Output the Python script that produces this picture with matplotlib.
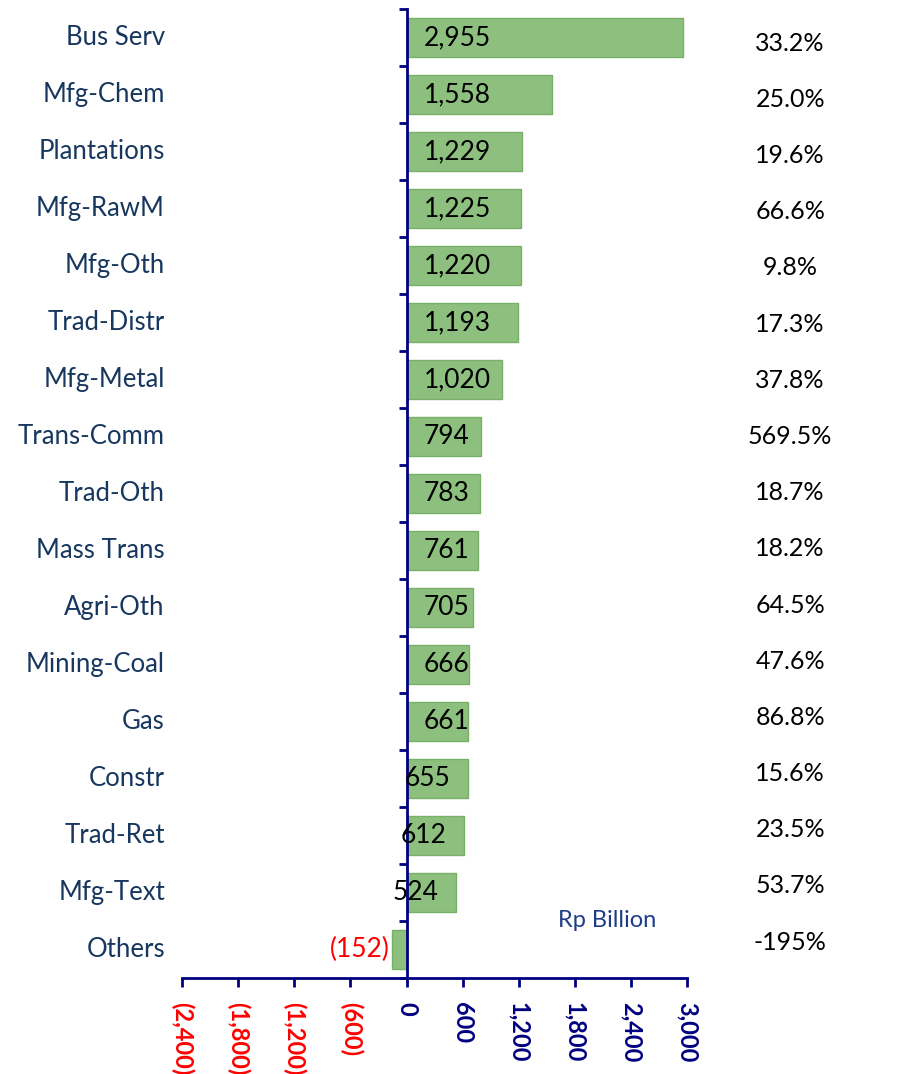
import numpy as np
import matplotlib
matplotlib.use("Agg")
import matplotlib.pyplot as plt

plt.rcParams['font.family'] = ['Lato', 'DejaVu Sans']

# data
categories = ["Bus Serv", "Mfg-Chem", "Plantations", "Mfg-RawM", "Mfg-Oth", "Trad-Distr",
              "Mfg-Metal", "Trans-Comm", "Trad-Oth", "Mass Trans", "Agri-Oth", "Mining-Coal",
              "Gas", "Constr", "Trad-Ret", "Mfg-Text", "Others"]
values = [2955, 1558, 1229, 1225, 1220, 1193, 1020, 794, 783, 761, 705, 666,
          661, 655, 612, 524, -152]
growth = ["33.2%", "25.0%", "19.6%", "66.6%", "9.8%", "17.3%", "37.8%", "569.5%",
          "18.7%", "18.2%", "64.5%", "47.6%", "86.8%", "15.6%", "23.5%", "53.7%", "-195%"]
x_ticks = [-2400, -1800, -1200, -600, 0, 600, 1200, 1800, 2400, 3000]

NAVY = '#000080'
RED = '#ff0000'
LABEL_COL = '#17375e'
BAR_FACE = '#8dc07e'
BAR_EDGE = '#79b068'


def fmt(v):
    return f"({abs(v):,})" if v < 0 else f"{v:,}"


fig = plt.figure(figsize=(9.15, 10.74), dpi=100)
ax = fig.add_axes([0.199, 0.0894, 0.552, 0.9022])

n = len(categories)
ypos = np.arange(n)
ax.barh(ypos, values, height=0.68, color=BAR_FACE, edgecolor=BAR_EDGE, linewidth=1)

ax.set_xlim(-2400, 3000)
ax.set_ylim(n - 0.5, -0.5)

# spines
for s in ['top', 'right']:
    ax.spines[s].set_visible(False)
ax.spines['left'].set_position(('data', 0))
ax.spines['left'].set_color(NAVY)
ax.spines['left'].set_linewidth(2)
ax.spines['bottom'].set_color(NAVY)
ax.spines['bottom'].set_linewidth(2)
ax.spines['left'].set_zorder(5)

# ticks
ax.set_yticks(np.arange(n + 1) - 0.5)
ax.set_yticklabels([])
ax.tick_params(axis='y', direction='out', length=6, width=2, color=NAVY)
ax.set_xticks(x_ticks)
ax.set_xticklabels([fmt(t) for t in x_ticks], rotation=270, fontsize=17,
                   fontweight='bold', va='top', ha='center')
ax.tick_params(axis='x', direction='out', length=6.5, width=2, color=NAVY, pad=11)
for lbl, t in zip(ax.get_xticklabels(), x_ticks):
    lbl.set_color(RED if t < 0 else NAVY)

# category labels on the far left
for y, c in zip(ypos, categories):
    ax.text(-0.034, y, c, transform=ax.get_yaxis_transform(), ha='right',
            va='center', fontsize=18.5, color=LABEL_COL)

# growth column on the right (its rows are spaced slightly tighter than the bars)
grow_y = np.linspace(0.1, n - 1.13, n)
for y, g in zip(grow_y, growth):
    ax.text(1.204, y, g, transform=ax.get_yaxis_transform(), ha='center',
            va='center', fontsize=18, color='black')

# value labels: inside base, pushed to the bar end when the bar is short
fig.canvas.draw()
px_per_unit = ax.transData.transform((1000, 0))[0] - ax.transData.transform((0, 0))[0]
px_per_unit /= 1000
pad = 17 / px_per_unit
for y, v in zip(ypos, values):
    if v < 0:
        ax.text(v - 30, y, fmt(v), ha='right', va='center', fontsize=19, color=RED)
        continue
    if v * px_per_unit >= 61.5:
        ax.text(pad, y, fmt(v), ha='left', va='center', fontsize=19, color='black', zorder=6)
    else:
        ax.text(v - pad, y, fmt(v), ha='right', va='center', fontsize=19, color='black', zorder=6)

ax.text(2140, n - 1.5, "Rp Billion", ha='center', va='center', fontsize=17, color='#1f3c88')

fig.savefig("out.png", dpi=100)
